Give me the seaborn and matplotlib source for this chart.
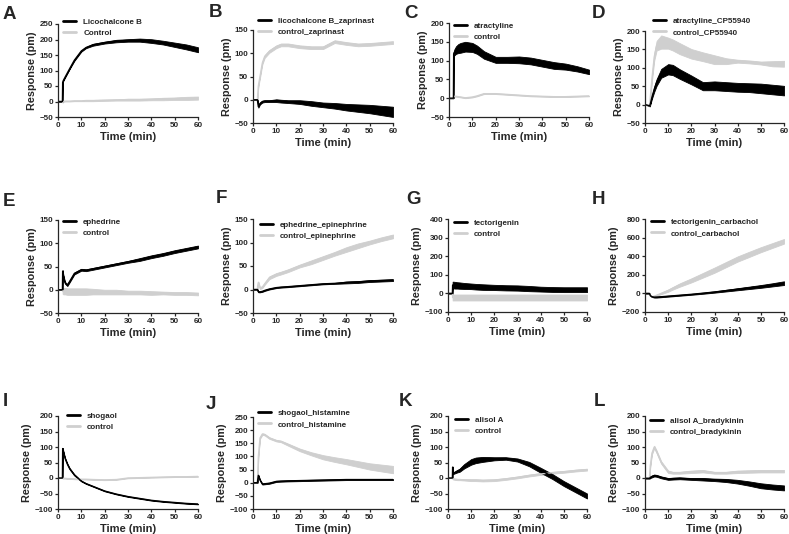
import numpy as np
import pandas as pd
import matplotlib
matplotlib.use("Agg")
import matplotlib.pyplot as plt
import seaborn as sns

# shared time grid (min)
time_min = [0, 1.9, 2, 2.3, 3, 4, 5, 7, 10, 12, 15, 20, 25, 30, 35, 40, 45, 50, 55, 60]

# A
a_drug = [0, 0, 62, 68, 78, 92, 106, 133, 163, 174, 183, 190, 195, 197, 198, 195, 190, 183, 176, 167]
a_drug_err = [0, 0, 1, 1, 1, 1, 1, 2, 2, 2, 3, 3, 4, 4, 5, 6, 6, 7, 8, 8]
a_ctrl = [0, 0, -3, 0, 1, 1, 1, 2, 2, 3, 3, 4, 5, 6, 6, 7, 8, 9, 10, 11]
a_ctrl_err = [0, 0, 1, 1, 1, 1, 1, 1, 1, 2, 2, 2, 2, 3, 3, 3, 4, 4, 5, 5]
# B
b_drug = [0, 0, -5, -15, -8, -4, -3, -3, -2, -3, -4, -5, -8, -11, -13, -16, -18, -20, -23, -26]
b_drug_err = [0, 0, 1, 2, 2, 2, 2, 2, 3, 3, 3, 4, 5, 5, 6, 7, 8, 9, 10, 11]
b_ctrl = [0, 0, 10, 30, 50, 79, 93, 104, 114, 118, 118, 114, 112, 112, 125, 121, 118, 119, 121, 123]
b_ctrl_err = [0, 0, 1, 2, 3, 3, 3, 3, 3, 3, 3, 3, 3, 3, 3, 3, 3, 3, 3, 3]
# C
c_drug = [0, 0, 118, 122, 128, 132, 134, 137, 135, 129, 115, 102, 102, 102, 99, 93, 87, 84, 78, 70]
c_drug_err = [0, 0, 5, 8, 10, 12, 13, 13, 12, 11, 10, 8, 8, 9, 9, 9, 9, 8, 7, 6]
c_ctrl = [0, 0, 5, 5, 5, 4, 3, 1, 3, 6, 12, 12, 10, 8, 6, 5, 4, 4, 5, 6]
c_ctrl_err = [0, 0, 1, 1, 1, 1, 1, 1, 1, 1, 1, 1, 1, 1, 1, 1, 1, 1, 1, 1]
# D
d_drug = [0, -3, -4, 2, 20, 42, 60, 85, 96, 94, 83, 67, 50, 51, 49, 47, 46, 44, 41, 38]
d_drug_err = [0, 1, 1, 2, 4, 7, 9, 12, 14, 14, 13, 12, 11, 12, 12, 12, 12, 13, 13, 13]
d_ctrl = [0, -3, -4, 20, 70, 130, 160, 170, 167, 162, 152, 138, 130, 122, 118, 118, 116, 113, 111, 111]
d_ctrl_err = [0, 1, 1, 3, 6, 10, 13, 18, 15, 15, 15, 13, 12, 12, 8, 4, 4, 4, 7, 8]
# E
e_drug = [0, 0, 40, 30, 15, 10, 18, 35, 43, 42, 45, 50, 55, 60, 65, 71, 76, 82, 87, 92]
e_drug_err = [0, 0, 2, 2, 2, 2, 2, 2, 2, 2, 2, 2, 2, 2, 3, 3, 3, 3, 3, 3]
e_ctrl = [0, 0, -3, -3, -3, -4, -4, -4, -4, -4, -4, -5, -5, -6, -6, -7, -7, -8, -8, -9]
e_ctrl_err = [0, 0, 6, 7, 7, 7, 7, 7, 7, 7, 6, 5, 5, 4, 4, 4, 3, 3, 3, 3]
# F
f_drug = [0, 0, -2, -5, -5, -4, -2, 1, 4, 5, 6, 8, 10, 12, 13, 15, 16, 18, 19, 20]
f_drug_err = [0, 0, 1, 1, 1, 1, 1, 1, 1, 1, 1, 1, 1, 1, 1, 2, 2, 2, 2, 2]
f_ctrl = [0, 0, 8, 15, 3, 5, 12, 25, 32, 35, 40, 50, 58, 67, 76, 85, 93, 100, 107, 113]
f_ctrl_err = [0, 0, 1, 2, 2, 2, 2, 3, 3, 3, 3, 3, 4, 4, 4, 5, 5, 4, 4, 4]
# G
g_drug = [0, 0, 45, 45, 44, 43, 42, 40, 38, 36, 34, 32, 30, 29, 26, 23, 21, 20, 20, 20]
g_drug_err = [0, 0, 18, 18, 18, 17, 17, 16, 15, 15, 15, 14, 14, 14, 14, 13, 13, 13, 13, 13]
g_ctrl = [0, 0, -22, -22, -22, -22, -22, -22, -22, -22, -22, -22, -22, -22, -22, -22, -22, -22, -22, -22]
g_ctrl_err = [0, 0, 16, 16, 16, 16, 16, 16, 16, 16, 16, 16, 16, 16, 16, 16, 16, 16, 16, 16]
# H
h_drug = [0, 0, -5, -25, -35, -40, -40, -36, -30, -26, -20, -10, 2, 15, 30, 45, 60, 75, 92, 110]
h_drug_err = [0, 0, 2, 3, 4, 5, 5, 5, 5, 5, 5, 5, 6, 7, 9, 11, 13, 15, 17, 20]
h_ctrl = [0, 0, -5, -25, -35, -30, -20, 0, 30, 55, 90, 140, 195, 250, 310, 370, 420, 470, 515, 560]
h_ctrl_err = [0, 0, 2, 3, 4, 5, 6, 8, 12, 14, 18, 22, 25, 28, 28, 28, 28, 27, 26, 25]
# I
i_drug = [0, 0, 95, 85, 64, 45, 30, 10, -10, -18, -27, -42, -52, -60, -66, -72, -76, -79, -82, -84]
i_drug_err = [0, 0, 2, 2, 2, 2, 2, 2, 1, 1, 1, 1, 1, 1, 1, 1, 1, 1, 1, 1]
i_ctrl = [0, 0, -1, -1, -1, -2, -2, -3, -4, -4, -5, -6, -5, 0, 1, 2, 3, 4, 4, 5]
i_ctrl_err = [0, 0, 1, 1, 1, 1, 1, 1, 1, 1, 1, 1, 1, 1, 1, 1, 1, 1, 1, 1]
# J
j_drug = [0, 0, 10, 28, 10, -5, -4, -2, 5, 6, 7, 8, 9, 10, 11, 12, 12, 12, 12, 12]
j_drug_err = [0, 0, 2, 2, 2, 2, 2, 2, 2, 2, 2, 2, 2, 2, 2, 2, 2, 2, 2, 2]
j_ctrl = [0, 0, 30, 100, 170, 185, 183, 170, 160, 157, 145, 125, 110, 97, 88, 80, 71, 62, 56, 50]
j_ctrl_err = [0, 0, 2, 3, 3, 3, 3, 3, 3, 3, 4, 5, 6, 8, 9, 10, 11, 12, 13, 14]
# K
k_drug = [0, 0, 35, 15, 18, 22, 25, 38, 52, 57, 60, 62, 63, 58, 45, 25, 5, -18, -38, -58]
k_drug_err = [0, 0, 2, 2, 3, 4, 5, 7, 9, 9, 8, 5, 4, 5, 7, 8, 8, 8, 8, 8]
k_ctrl = [0, 0, -2, -3, -4, -5, -5, -6, -7, -7, -8, -7, -3, 2, 8, 13, 17, 20, 24, 27]
k_ctrl_err = [0, 0, 2, 2, 2, 2, 2, 2, 3, 3, 3, 3, 3, 3, 3, 3, 3, 3, 3, 3]
# L
l_drug = [-1, -1, -1, 2, 5, 8, 7, 2, -3, -2, -1, -3, -4, -6, -8, -12, -18, -25, -29, -32]
l_drug_err = [1, 1, 1, 2, 3, 3, 3, 3, 3, 3, 3, 3, 4, 4, 5, 6, 7, 8, 8, 8]
l_ctrl = [0, 0, 10, 40, 80, 100, 85, 50, 20, 17, 17, 20, 22, 17, 17, 20, 21, 22, 22, 22]
l_ctrl_err = [0, 0, 2, 3, 4, 4, 4, 4, 4, 3, 3, 4, 4, 3, 3, 4, 4, 4, 4, 4]

letters = list("ABCDEFGHIJKL")
drug_labels = ["Licochalcone B", "licochalcone B_zaprinast", "atractyline", "atractyline_CP55940",
               "ephedrine", "ephedrine_epinephrine", "tectorigenin", "tectorigenin_carbachol",
               "shogaol", "shogaol_histamine", "alisol A", "alisol A_bradykinin"]
ctrl_labels = ["Control", "control_zaprinast", "control", "control_CP55940",
               "control", "control_epinephrine", "control", "control_carbachol",
               "control", "control_histamine", "control", "control_bradykinin"]
y_ranges = [(-50, 250, 50), (-50, 150, 50), (-50, 200, 50), (-50, 200, 50),
            (-50, 150, 50), (-50, 150, 50), (-100, 400, 100), (-200, 800, 200),
            (-100, 200, 50), (-100, 250, 50), (-100, 200, 50), (-100, 200, 50)]

series = [(a_drug, a_drug_err, a_ctrl, a_ctrl_err), (b_drug, b_drug_err, b_ctrl, b_ctrl_err),
          (c_drug, c_drug_err, c_ctrl, c_ctrl_err), (d_drug, d_drug_err, d_ctrl, d_ctrl_err),
          (e_drug, e_drug_err, e_ctrl, e_ctrl_err), (f_drug, f_drug_err, f_ctrl, f_ctrl_err),
          (g_drug, g_drug_err, g_ctrl, g_ctrl_err), (h_drug, h_drug_err, h_ctrl, h_ctrl_err),
          (i_drug, i_drug_err, i_ctrl, i_ctrl_err), (j_drug, j_drug_err, j_ctrl, j_ctrl_err),
          (k_drug, k_drug_err, k_ctrl, k_ctrl_err), (l_drug, l_drug_err, l_ctrl, l_ctrl_err)]

# layout in pixels: axes (left, top, right, bottom), legend (x, y), letter (x, y)
W, H = 789, 534
axes_px = [(58, 24, 198, 117), (253, 30, 393, 123), (449, 23, 589, 117), (645, 31, 784, 123),
           (58, 220, 198, 313), (253, 219, 393, 313), (448, 219, 587, 312), (645, 219, 784, 312),
           (58, 416, 198, 509), (253, 417, 393, 509), (448, 416, 587, 509), (645, 416, 784, 509)]
legend_px = [(63, 23), (258, 22), (454, 27), (653, 22), (63, 223), (260, 226),
             (454, 224), (651, 223), (67, 417), (258, 414), (455, 421), (650, 422)]
letter_px = [(3, 6), (209, 4), (404, 5), (592, 5), (3, 193), (216, 190),
             (406, 191), (592, 191), (3, 393), (206, 396), (399, 393), (594, 393)]

sns.set_style("ticks")
plt.rcParams['font.family'] = ['Liberation Sans', 'DejaVu Sans']
plt.rcParams['font.weight'] = 'bold'

BLACK = "#000000"
GRAY = "#cfcfcf"

fig = plt.figure(figsize=(W / 100, H / 100), dpi=100)

for k in range(12):
    l, t, r, b = axes_px[k]
    ax = fig.add_axes([l / W, 1 - b / H, (r - l) / W, (b - t) / H])
    drug, drug_err, ctrl, ctrl_err = series[k]
    x = np.array(time_min)
    for mean, err, col, lab in [(ctrl, ctrl_err, GRAY, ctrl_labels[k]),
                                (drug, drug_err, BLACK, drug_labels[k])]:
        m = np.array(mean, dtype=float)
        e = np.array(err, dtype=float)
        ax.fill_between(x, m - e, m + e, color=col, lw=0.6, edgecolor=col)
        sns.lineplot(x=x, y=m, ax=ax, color=col, lw=1, label=lab, legend=False)

    ymin, ymax, step = y_ranges[k]
    ax.set_xlim(0, 60)
    ax.set_ylim(ymin, ymax)
    ax.set_xticks(range(0, 61, 10))
    ax.set_yticks(range(ymin, ymax + 1, step))
    ax.tick_params(labelsize=5.8, length=2, width=0.9, pad=1.5)
    for s in ["left", "bottom"]:
        ax.spines[s].set_linewidth(0.9)
    sns.despine(ax=ax)
    ax.set_xlabel("Time (min)", fontsize=8, fontweight="bold", labelpad=2)
    ax.set_ylabel("Response (pm)", fontsize=7.8, fontweight="bold", labelpad=2)

    h_black = plt.Line2D([], [], color=BLACK, lw=2)
    h_gray = plt.Line2D([], [], color=GRAY, lw=2)
    lx, ly = legend_px[k]
    ax.legend([h_black, h_gray], [drug_labels[k], ctrl_labels[k]],
              loc="upper left", bbox_to_anchor=(lx / W, 1 - (ly - 5) / H),
              bbox_transform=fig.transFigure, frameon=False,
              borderpad=0, borderaxespad=0, handlelength=1.6, handletextpad=0.9,
              labelspacing=0.45, prop={"weight": "bold", "size": 5.8})

    px, py = letter_px[k]
    fig.text(px / W, 1 - py / H, letters[k], fontsize=13.5, fontweight="bold",
             ha="left", va="top")

fig.savefig("out.png", dpi=100)
